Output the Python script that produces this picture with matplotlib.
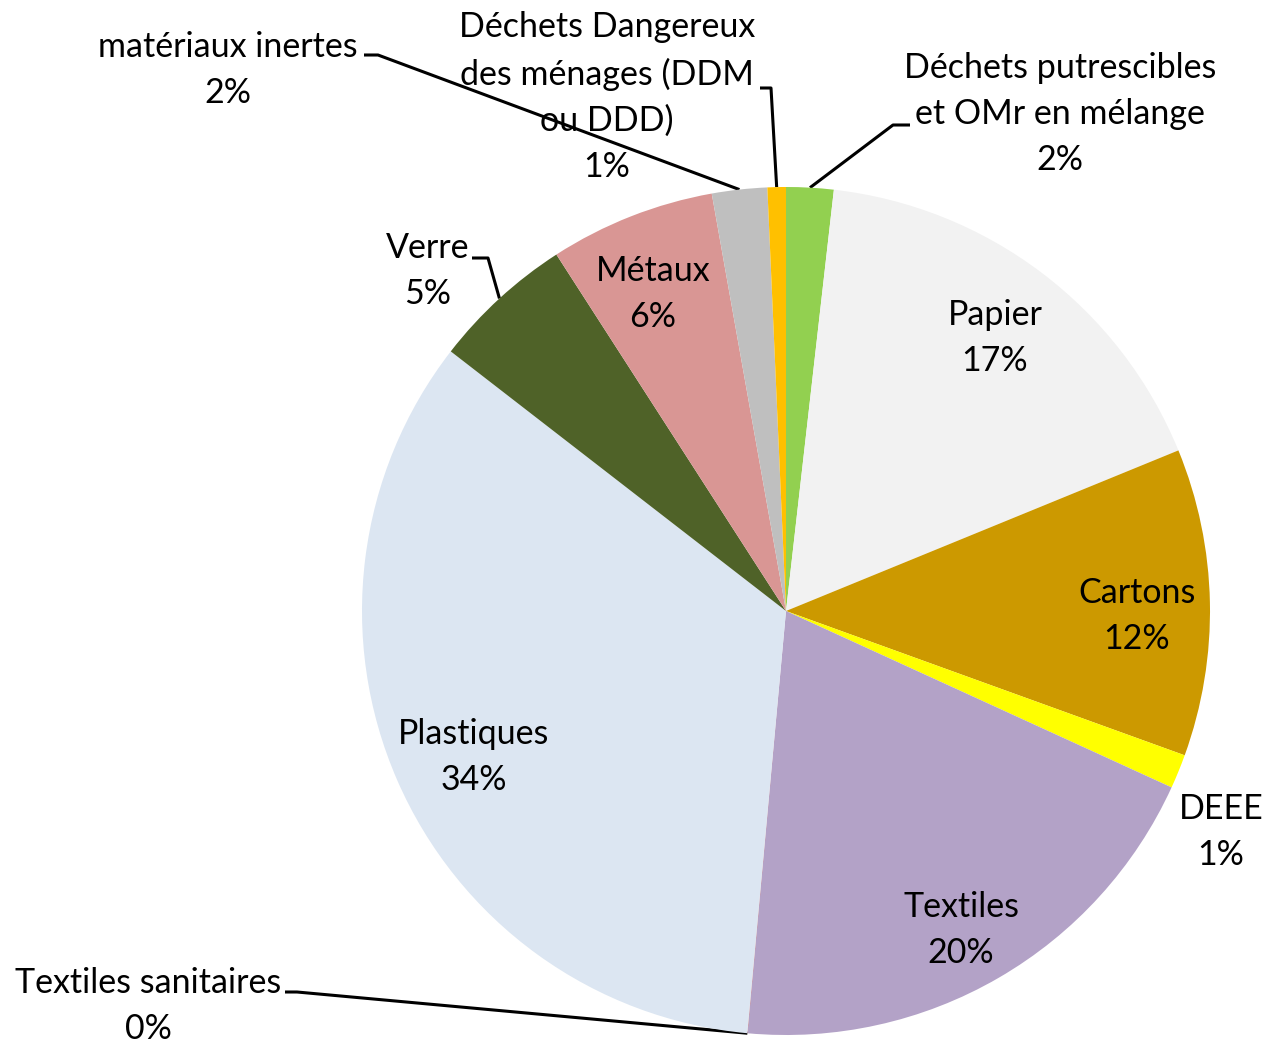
import matplotlib
matplotlib.use("Agg")
import matplotlib.pyplot as plt
import numpy as np

categories = ["Déchets putrescibles\net OMr en mélange", "Papier", "Cartons", "DEEE",
              "Textiles", "Textiles sanitaires", "Plastiques", "Verre", "Métaux",
              "matériaux inertes", "Déchets Dangereux\ndes ménages (DDM\nou DDD)"]
values = [1.8, 17.0, 11.7, 1.3, 19.6, 0.01, 34.0, 5.4, 6.3, 2.1, 0.7]
colors = ["#92D050", "#F2F2F2", "#CC9900", "#FFFF00", "#B3A2C7", "#C0504D",
          "#DCE6F2", "#4F6228", "#D99694", "#BFBFBF", "#FFC000"]

W, H = 1268, 1045
plt.rcParams['font.family'] = ['Lato', 'DejaVu Sans']
fig = plt.figure(figsize=(W / 100, H / 100), dpi=100)
ax = fig.add_axes([0, 0, 1, 1])

def P(x, y):
    return (x, H - y)

cx, cy = P(786, 611)
R = 424
wedges, _ = ax.pie(values, colors=colors, startangle=90, counterclock=False,
                   center=(cx, cy), radius=R, wedgeprops=dict(linewidth=0))
ax.set_xlim(0, W)
ax.set_ylim(0, H)
ax.axis('off')

total = sum(values)
pcts = [f"{round(v / total * 100):d}%" for v in values]

fs = 24.5
# label positions: (center x, center y in px, leader elbow list or None)
layout = [
    ((1060, 114), [(893, 125), (910, 125)]),
    ((995, 338), None),
    ((1137, 616), None),
    ((1221, 832), None),
    ((961, 930), None),
    ((148, 1006), [(297, 992), (285, 992)]),
    ((474, 757), None),
    ((428, 271), [(488, 258), (472, 258)]),
    ((653, 294), None),
    ((228, 70), [(378, 55), (364, 55)]),
    ((607, 97), [(771, 88), (760, 88)]),
]

for w, cat, pct, (pos, elbow) in zip(wedges, categories, pcts, layout):
    ax.text(*P(*pos), f"{cat}\n{pct}", ha='center', va='center', fontsize=fs,
            linespacing=1.53, color='black')
    if elbow:
        mid = np.deg2rad((w.theta1 + w.theta2) / 2)
        sx, sy = cx + R * np.cos(mid), cy + R * np.sin(mid)
        pts = [(sx, sy)] + [P(*e) for e in elbow]
        ax.plot([p[0] for p in pts], [p[1] for p in pts], color='black', lw=2.2,
                solid_capstyle='butt', zorder=0.5)

fig.savefig("out.png", dpi=100)
